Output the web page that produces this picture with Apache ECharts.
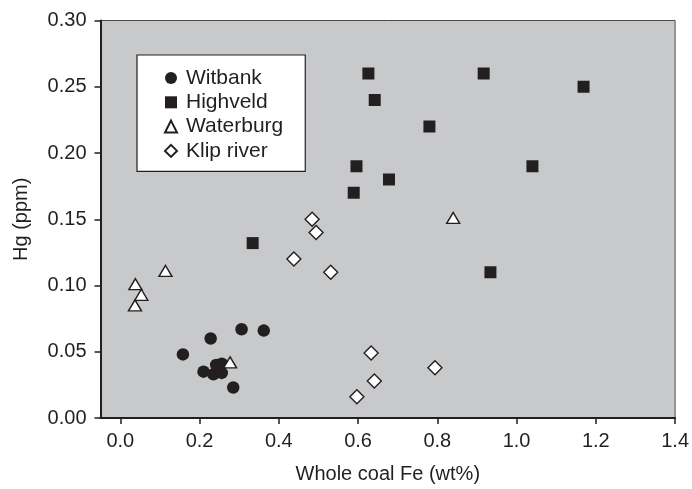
<!DOCTYPE html>
<html>
<head>
<meta charset="utf-8">
<script src="https://cdn.jsdelivr.net/npm/echarts@6/dist/echarts.min.js"></script>
<style>
  html, body { margin: 0; padding: 0; background: #ffffff; }
  #chart { width: 692px; height: 489px; }
</style>
</head>
<body>
<div id="chart"></div>
<script>
// Hg versus whole-coal Fe for four South African coalfields
const witbankFe = [0.306, 0.362, 0.228, 0.158, 0.210, 0.242, 0.256, 0.235, 0.256, 0.285];
const witbankHg = [0.067, 0.066, 0.060, 0.048, 0.035, 0.040, 0.041, 0.033, 0.034, 0.023];

const highveldFe = [0.626, 0.642, 0.780, 0.596, 0.678, 0.589, 0.334, 0.917, 1.169, 1.040, 0.934];
const highveldHg = [0.260, 0.240, 0.220, 0.190, 0.180, 0.170, 0.132, 0.260, 0.250, 0.190, 0.110];

const waterburgFe = [0.038, 0.053, 0.037, 0.114, 0.277, 0.840];
const waterburgHg = [0.101, 0.093, 0.085, 0.111, 0.042, 0.151];

const klipFe = [0.484, 0.494, 0.438, 0.531, 0.633, 0.641, 0.597, 0.794];
const klipHg = [0.150, 0.140, 0.120, 0.110, 0.049, 0.028, 0.016, 0.038];

const xTicks = [0.0, 0.2, 0.4, 0.6, 0.8, 1.0, 1.2, 1.4];

const ink = '#231f20';
const font = '"Liberation Sans", Arial, Helvetica, sans-serif';

function pairs(xs, ys) {
  return xs.map((x, i) => [x, ys[i]]);
}

const chart = echarts.init(document.getElementById('chart'), null, { renderer: 'canvas' });

chart.setOption({
  animation: false,
  backgroundColor: '#ffffff',
  textStyle: { fontFamily: font, color: ink },
  grid: {
    left: 100.5, right: 16.5, top: 20.5, bottom: 68,
    show: true,
    backgroundColor: '#c8c9cb',
    borderColor: '#4a4a4a',
    borderWidth: 1
  },
  legend: {
    orient: 'vertical',
    left: 137, top: 55,
    padding: [12.5, 22, 10, 27],
    itemWidth: 12, itemHeight: 12,
    itemGap: 3.3,
    symbolKeepAspect: true,
    backgroundColor: '#ffffff',
    borderColor: ink,
    borderWidth: 1.2,
    textStyle: { fontFamily: font, fontSize: 21, lineHeight: 21, color: ink, padding: [0, 0, 0, 4] },
    data: ['Witbank', 'Highveld', 'Waterburg', 'Klip river']
  },
  xAxis: {
    type: 'value',
    min: -0.05, max: 1.4,
    name: 'Whole coal Fe (wt%)',
    nameLocation: 'middle',
    nameGap: 46,
    nameTextStyle: { fontFamily: font, fontSize: 20, color: ink },
    splitLine: { show: false },
    axisLine: { show: true, onZero: false, lineStyle: { color: ink, width: 2 } },
    axisTick: { show: true, length: 6, customValues: xTicks, lineStyle: { color: ink, width: 1.5 } },
    axisLabel: {
      customValues: xTicks,
      margin: 13,
      fontFamily: font, fontSize: 20, color: ink,
      formatter: v => v.toFixed(1)
    }
  },
  yAxis: {
    type: 'value',
    min: 0, max: 0.30, interval: 0.05,
    name: 'Hg (ppm)',
    nameLocation: 'middle',
    nameGap: 69,
    nameTextStyle: { fontFamily: font, fontSize: 20, color: ink },
    splitLine: { show: false },
    axisLine: { show: true, onZero: false, lineStyle: { color: ink, width: 2 } },
    axisTick: { show: true, length: 6, lineStyle: { color: ink, width: 1.5 } },
    axisLabel: {
      margin: 14,
      fontFamily: font, fontSize: 20, color: ink,
      formatter: v => v.toFixed(2)
    }
  },
  series: [
    {
      name: 'Witbank', type: 'scatter', symbol: 'circle', symbolSize: 12.5,
      itemStyle: { color: ink, opacity: 1 },
      data: pairs(witbankFe, witbankHg)
    },
    {
      name: 'Highveld', type: 'scatter', symbol: 'rect', symbolSize: 12,
      itemStyle: { color: ink, opacity: 1 },
      data: pairs(highveldFe, highveldHg)
    },
    {
      name: 'Waterburg', type: 'scatter', symbol: 'triangle', symbolSize: [13, 11],
      itemStyle: { color: '#ffffff', borderColor: ink, borderWidth: 1.4, opacity: 1 },
      data: pairs(waterburgFe, waterburgHg)
    },
    {
      name: 'Klip river', type: 'scatter', symbol: 'diamond', symbolSize: 14,
      itemStyle: { color: '#ffffff', borderColor: ink, borderWidth: 1.4, opacity: 1 },
      data: pairs(klipFe, klipHg)
    }
  ]
});
</script>
</body>
</html>
